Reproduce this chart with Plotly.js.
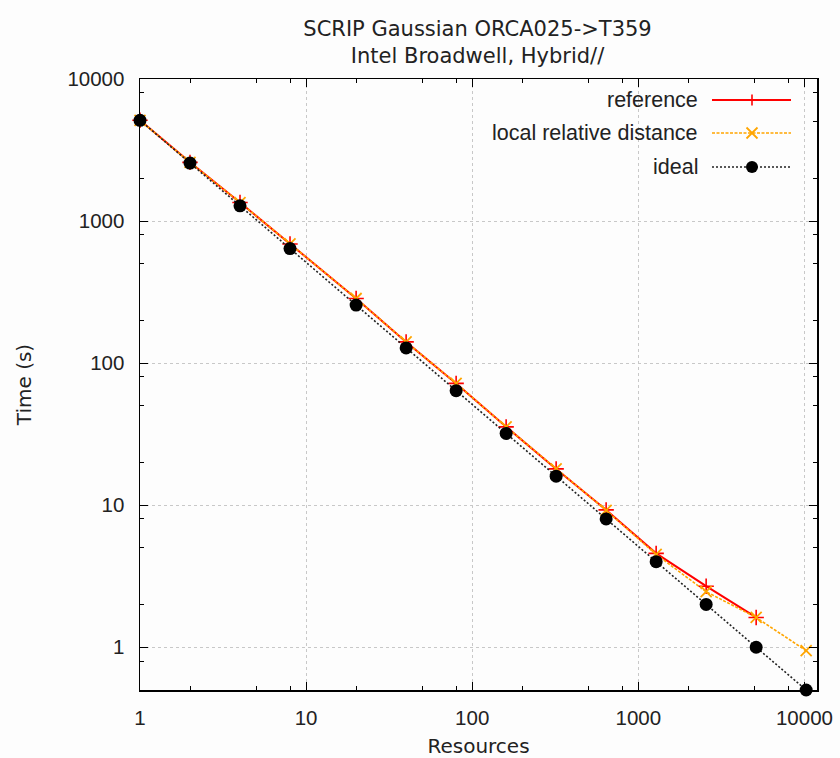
<!DOCTYPE html>
<html>
<head>
<meta charset="utf-8">
<script src="https://cdn.plot.ly/plotly-3.0.1.min.js"></script>
<style>html,body{margin:0;padding:0;background:#fdfdfd;}#chart{width:840px;height:758px;}</style>
</head>
<body>
<div id="chart"></div>
<script>
// ---- data ----
const resources = [1, 2, 4, 8, 20, 40, 80, 160, 320, 640, 1280, 2560, 5120, 10240];
const referenceTime = [5120, 2590, 1350, 690, 285, 141, 72, 35.6, 18, 9.26, 4.58, 2.69, 1.62];
const localRelTime  = [5120, 2590, 1350, 690, 285, 141, 72, 35.6, 18, 9.2, 4.5, 2.46, 1.62, 0.945];
const idealTime     = [5120, 2560, 1280, 640, 256, 128, 64, 32, 16, 8, 4, 2, 1, 0.5];
const seriesNames = ['reference', 'local relative distance', 'ideal'];
const xTickVals = [1, 10, 100, 1000, 10000];
const xTickText = ['1', '10', '100', '1000', '10000'];
const yTickVals = [1, 10, 100, 1000, 10000];
const yTickText = ['1', '10', '100', '1000', '10000'];
const xMinorVals = [2, 5, 8, 20, 50, 80, 200, 500, 800, 2000, 5000, 8000];
const yMinorVals = [0.5, 0.8, 2, 5, 8, 20, 50, 80, 200, 500, 800, 2000, 5000, 8000];

const RED = '#ff0000', ORANGE = '#ffa500', BLACK = '#000000';

const traces = [
  {x: resources.slice(0, referenceTime.length), y: referenceTime, name: seriesNames[0], mode: 'lines+markers',
   line: {color: RED, width: 2}, marker: {symbol: 'cross-thin', size: 11, line: {color: RED, width: 1.6}}, cliponaxis: false},
  {x: resources.slice(0, localRelTime.length), y: localRelTime, name: seriesNames[1], mode: 'lines+markers',
   line: {color: ORANGE, width: 1.6, dash: '3px,1.5px'}, marker: {symbol: 'x-thin', size: 11, line: {color: ORANGE, width: 1.8}}, cliponaxis: false},
  {x: resources, y: idealTime, name: seriesNames[2], mode: 'lines+markers',
   line: {color: '#222', width: 1.6, dash: '2px,2px'}, marker: {symbol: 'circle', size: 13, color: BLACK}, cliponaxis: false}
];

// ---- custom legend (text right-aligned, key sample on the right, like gnuplot) ----
const L = 140, R = 817, T = 79, B = 690;
const W = R - L, H = B - T;
function px(x) { return (x - L) / W; }
function py(y) { return (B - y) / H; }
const legY = [100, 133, 167];
const keyX0 = 712, keyX1 = 791, keyM = 752;
const annotations = [];
const shapes = [];
const keyStyles = [
  {color: RED, width: 2, dash: 'solid'},
  {color: ORANGE, width: 1.6, dash: '3px,1.5px'},
  {color: '#222', width: 1.6, dash: '2px,2px'}
];
seriesNames.forEach((n, i) => {
  annotations.push({xref: 'paper', yref: 'paper', x: px(700), y: py(legY[i]), xanchor: 'right', yanchor: 'middle',
    text: n, showarrow: false, font: {family: 'Liberation Sans, Arial, sans-serif', size: 21.5, color: '#222'}});
  shapes.push({type: 'line', xref: 'paper', yref: 'paper', x0: px(keyX0), x1: px(keyX1), y0: py(legY[i]), y1: py(legY[i]),
    line: keyStyles[i]});
});
const s = 5.5;
// + marker
shapes.push({type: 'line', xref: 'paper', yref: 'paper', x0: px(keyM - s), x1: px(keyM + s), y0: py(legY[0]), y1: py(legY[0]), line: {color: RED, width: 1.6}});
shapes.push({type: 'line', xref: 'paper', yref: 'paper', x0: px(keyM), x1: px(keyM), y0: py(legY[0] - s), y1: py(legY[0] + s), line: {color: RED, width: 1.6}});
// x marker
shapes.push({type: 'line', xref: 'paper', yref: 'paper', x0: px(keyM - s), x1: px(keyM + s), y0: py(legY[1] - s), y1: py(legY[1] + s), line: {color: ORANGE, width: 1.8}});
shapes.push({type: 'line', xref: 'paper', yref: 'paper', x0: px(keyM - s), x1: px(keyM + s), y0: py(legY[1] + s), y1: py(legY[1] - s), line: {color: ORANGE, width: 1.8}});
// circle marker
shapes.push({type: 'circle', xref: 'paper', yref: 'paper', x0: px(keyM - 6), x1: px(keyM + 6), y0: py(legY[2] + 6), y1: py(legY[2] - 6),
  fillcolor: BLACK, line: {color: BLACK, width: 0}});

const tickFont = {family: 'Liberation Sans, Arial, sans-serif', size: 20.5, color: '#222'};
const titleFont = {family: 'DejaVu Sans, sans-serif', size: 21, color: '#222'};
const axisTitleFont = {family: 'DejaVu Sans, sans-serif', size: 20, color: '#222'};

const layout = {
  width: 840, height: 758,
  paper_bgcolor: '#fdfdfd', plot_bgcolor: '#fdfdfd',
  margin: {l: L, r: 840 - R, t: T, b: 758 - B},
  showlegend: false,
  title: {text: 'SCRIP Gaussian ORCA025->T359<br>Intel Broadwell, Hybrid//', x: 0.5685, xanchor: 'center', y: 0.953, yanchor: 'top',
    font: titleFont},
  xaxis: {type: 'log', range: [0, Math.log10(11900)], tickmode: 'array', tickvals: xTickVals, ticktext: xTickText,
    ticks: 'inside', ticklen: 8, tickwidth: 1, tickcolor: '#000', mirror: 'allticks', showline: true, linecolor: '#000', linewidth: 1.5,
    showgrid: true, gridcolor: '#c8c8c8', griddash: 'dot', gridwidth: 1, zeroline: false,
    minor: {tickmode: 'array', tickvals: xMinorVals, ticks: 'inside', ticklen: 4, tickcolor: '#000', showgrid: false},
    tickfont: tickFont, ticklabelstandoff: 9,
    title: {text: 'Resources', font: axisTitleFont, standoff: 15}},
  yaxis: {type: 'log', range: [Math.log10(0.5), 4], tickmode: 'array', tickvals: yTickVals, ticktext: yTickText,
    ticks: 'inside', ticklen: 8, tickwidth: 1, tickcolor: '#000', mirror: 'allticks', showline: true, linecolor: '#000', linewidth: 1.5,
    showgrid: true, gridcolor: '#c8c8c8', griddash: 'dot', gridwidth: 1, zeroline: false,
    minor: {tickmode: 'array', tickvals: yMinorVals, ticks: 'inside', ticklen: 4, tickcolor: '#000', showgrid: false},
    tickfont: tickFont, ticklabelstandoff: 10,
    title: {text: 'Time (s)', font: axisTitleFont, standoff: 30}},
  annotations: annotations,
  shapes: shapes
};

Plotly.newPlot('chart', traces, layout, {displayModeBar: false, staticPlot: true});
</script>
</body>
</html>
